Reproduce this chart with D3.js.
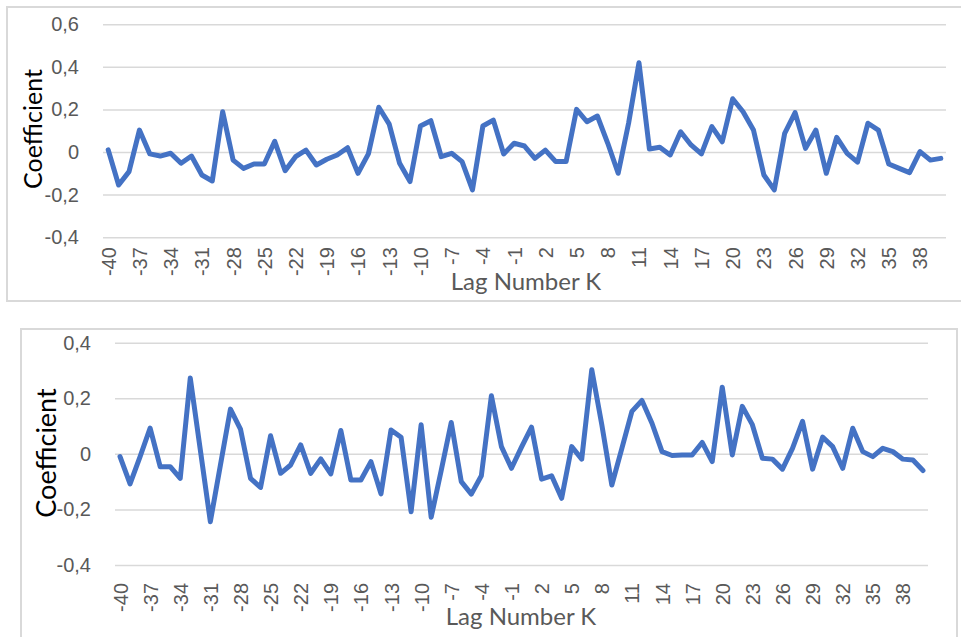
<!doctype html>
<html>
    <head>
        <meta charset="utf-8">
        <title>Cross-correlation coefficients</title>
        <script src="https://d3js.org/d3.v7.min.js"></script>
        <style>
            body { margin: 0; background: #fff; }
            svg { display: block; font-family: Lato, "Open Sans", sans-serif; }
        </style>
    </head>

    <body>
        <div id="my_dataviz"></div>
        <script>
            // lag numbers (categories)
            var lags = [-40,-39,-38,-37,-36,-35,-34,-33,-32,-31,-30,-29,-28,-27,-26,-25,-24,-23,-22,-21,
                        -20,-19,-18,-17,-16,-15,-14,-13,-12,-11,-10,-9,-8,-7,-6,-5,-4,-3,-2,-1,
                        0,1,2,3,4,5,6,7,8,9,10,11,12,13,14,15,16,17,18,19,
                        20,21,22,23,24,25,26,27,28,29,30,31,32,33,34,35,36,37,38,39,40];

            // x tick labels shown (every third lag)
            var xTickLabels = [-40,-37,-34,-31,-28,-25,-22,-19,-16,-13,-10,-7,-4,-1,2,5,8,11,14,17,20,23,26,29,32,35,38];

            // y ticks of each panel
            var yTicksTop = [-0.4, -0.2, 0, 0.2, 0.4, 0.6];
            var yTicksBottom = [-0.4, -0.2, 0, 0.2, 0.4];

            // coefficients, upper chart
            var coefTop = [0.01,-0.155,-0.092,0.103,-0.009,-0.019,-0.006,-0.053,-0.019,-0.108,
                           -0.136,0.189,-0.038,-0.077,-0.056,-0.056,0.05,-0.088,-0.022,0.009,
                           -0.061,-0.034,-0.014,0.02,-0.1,-0.009,0.21,0.131,-0.053,-0.139,
                           0.122,0.147,-0.022,-0.006,-0.045,-0.178,0.122,0.15,-0.009,0.041,
                           0.028,-0.03,0.009,-0.045,-0.045,0.2,0.142,0.169,0.041,-0.1,
                           0.135,0.419,0.014,0.022,-0.014,0.095,0.033,-0.009,0.119,0.048,
                           0.25,0.189,0.103,-0.108,-0.178,0.088,0.185,0.017,0.103,-0.1,
                           0.069,-0.006,-0.048,0.135,0.103,-0.056,-0.077,-0.097,0.002,-0.038,-0.03];

            // coefficients, lower chart
            var coefBottom = [-0.01,-0.108,-0.01,0.093,-0.046,-0.046,-0.088,0.273,0.014,-0.244,
                              -0.041,0.161,0.089,-0.088,-0.121,0.065,-0.07,-0.04,0.032,-0.07,
                              -0.018,-0.072,0.084,-0.094,-0.094,-0.028,-0.144,0.086,0.06,-0.208,
                              0.105,-0.228,-0.06,0.113,-0.1,-0.145,-0.079,0.209,0.026,-0.052,
                              0.024,0.096,-0.091,-0.079,-0.16,0.026,-0.019,0.303,0.105,-0.112,
                              0.02,0.153,0.192,0.11,0.008,-0.006,-0.004,-0.004,0.041,-0.028,
                              0.24,-0.004,0.171,0.105,-0.016,-0.019,-0.055,0.02,0.117,-0.055,
                              0.06,0.026,-0.052,0.092,0.008,-0.01,0.02,0.008,-0.019,-0.022,-0.06];

            var svg = d3.select("#my_dataviz")
                .append("svg")
                    .attr("width", 961)
                    .attr("height", 637);

            svg.append("rect")
                .attr("width", 961).attr("height", 637)
                .attr("fill", "#fff");

            // "0,6" style labels with a plain hyphen for negatives
            function fmt(d) {
                if (d === 0) return "0";
                return d3.format(".1f")(d).replace(".", ",").replace("\u2212", "-");
            }

            // one chart panel
            function drawPanel(p) {
                var g = svg.append("g");

                // chart frame
                g.append("rect")
                    .attr("x", p.frame[0]).attr("y", p.frame[1])
                    .attr("width", p.frame[2]).attr("height", p.frame[3])
                    .attr("fill", "none")
                    .attr("stroke", "#d9d9d9")
                    .attr("stroke-width", 2);

                var x = d3.scalePoint()
                    .domain(lags)
                    .range([p.left, p.right])
                    .padding(0.5);

                var y = d3.scaleLinear()
                    .domain(p.domain)
                    .range([p.bottom, p.top]);

                // Y axis with gridlines
                var yAxis = g.append("g")
                    .attr("transform", "translate(" + p.left + ",0)")
                    .call(d3.axisLeft(y)
                        .tickValues(p.yTicks)
                        .tickSize(-(p.right - p.left))
                        .tickPadding(24)
                        .tickFormat(fmt));
                yAxis.select(".domain").remove();
                yAxis.selectAll("line")
                    .attr("stroke", "#d9d9d9")
                    .attr("stroke-width", 1.5);
                yAxis.selectAll("text")
                    .attr("fill", "#595959")
                    .style("font-size", "20px");

                // X axis, rotated labels
                var xAxis = g.append("g")
                    .attr("transform", "translate(0," + p.bottom + ")")
                    .call(d3.axisBottom(x).tickValues(xTickLabels).tickSize(0));
                xAxis.select(".domain").remove();
                xAxis.selectAll("text")
                    .attr("transform", "rotate(-90)")
                    .attr("text-anchor", "end")
                    .attr("x", -p.xLabelGap)
                    .attr("y", 0)
                    .attr("dy", "0.35em")
                    .attr("fill", "#595959")
                    .style("font-size", "20px");

                // the line
                g.append("path")
                    .datum(p.values)
                    .attr("fill", "none")
                    .attr("stroke", "#4472c4")
                    .attr("stroke-width", 5)
                    .attr("stroke-linejoin", "round")
                    .attr("stroke-linecap", "round")
                    .attr("d", d3.line()
                        .x(function(d, i) { return x(lags[i]); })
                        .y(function(d) { return y(d); }));

                // axis titles
                g.append("text")
                    .attr("x", p.xTitle[0])
                    .attr("y", p.xTitle[1])
                    .attr("text-anchor", "middle")
                    .attr("fill", "#595959")
                    .style("font-size", "24px")
                    .text("Lag Number K");

                g.append("text")
                    .attr("transform", "translate(" + p.yTitle[0] + "," + p.yTitle[1] + ") rotate(-90)")
                    .attr("text-anchor", "middle")
                    .attr("fill", "#000")
                    .style("font-size", p.yTitleSize + "px")
                    .text("Coefficient");
            }

            drawPanel({
                frame: [7, 7, 970, 294],
                left: 103, right: 946, top: 24.2, bottom: 237.2,
                domain: [-0.4, 0.6], yTicks: yTicksTop,
                values: coefTop,
                xLabelGap: 10,
                xTitle: [526, 290],
                yTitle: [42, 129], yTitleSize: 25
            });

            drawPanel({
                frame: [21, 329, 936, 330],
                left: 115, right: 928, top: 342.7, bottom: 565,
                domain: [-0.4, 0.4], yTicks: yTicksBottom,
                values: coefBottom,
                xLabelGap: 18,
                xTitle: [521, 625],
                yTitle: [56, 453], yTitleSize: 27
            });
        </script>
    </body>
</html>
